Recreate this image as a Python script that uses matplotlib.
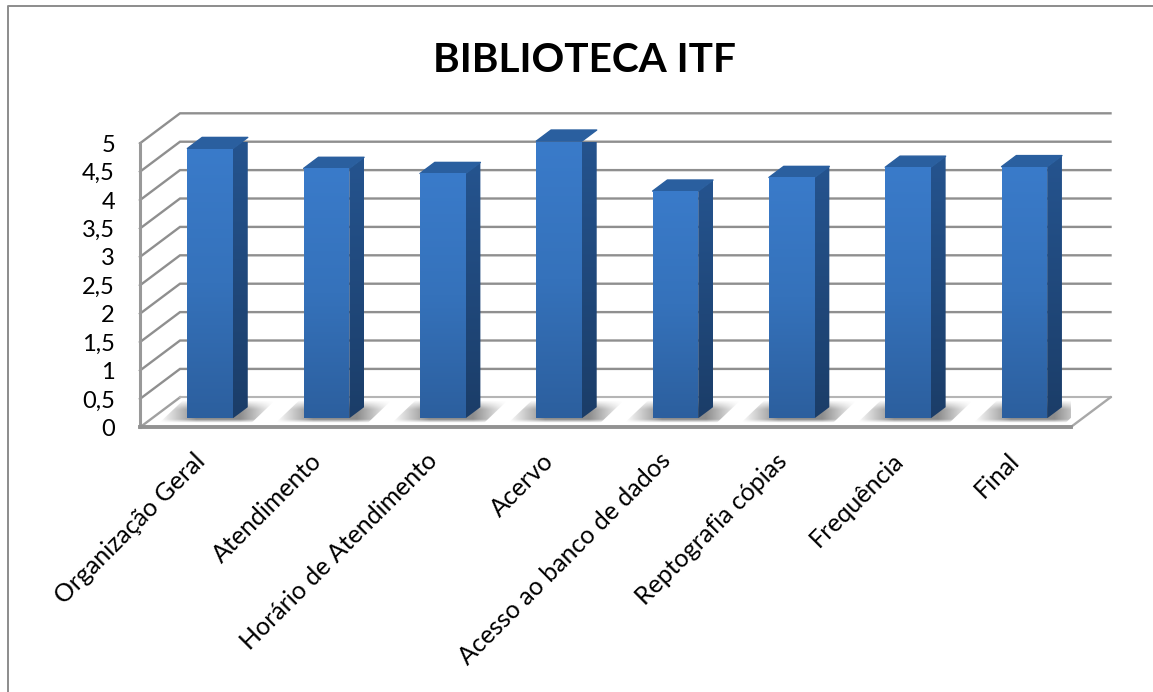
import matplotlib
matplotlib.use('Agg')
import matplotlib.pyplot as plt
from matplotlib.colors import LinearSegmentedColormap
from matplotlib.lines import Line2D
from matplotlib.patches import Polygon
from matplotlib.transforms import ScaledTranslation
import numpy as np

plt.rcParams['font.family'] = ['Lato', 'DejaVu Sans']

title = 'BIBLIOTECA ITF'
categories = ['Organização Geral', 'Atendimento', 'Horário de Atendimento', 'Acervo',
              'Acesso ao banco de dados', 'Reptografia cópias', 'Frequência', 'Final']
values = [4.75, 4.40, 4.31, 4.88, 4.00, 4.24, 4.42, 4.43]
y_ticks = [0, 0.5, 1, 1.5, 2, 2.5, 3, 3.5, 4, 4.5, 5]
y_labels = ['0', '0,5', '1', '1,5', '2', '2,5', '3', '3,5', '4', '4,5', '5']

W, H = 1153, 692
# depth of the box, in data units per unit of depth
DX, DY = 0.344, 0.528
BAR_W = 0.392
D0, D1 = 0.30, 0.67

front_cmap = LinearSegmentedColormap.from_list('front', ['#3a7bca', '#3572bb', '#2c5f9e'])
side_cmap = LinearSegmentedColormap.from_list('side', ['#25548f', '#1b3d68'])
grid_col = '#8f8f8f'


def proj(x, y, d):
    return x + d * DX, y + d * DY


def box_face(ax, pts, cmap, ext, zorder):
    poly = Polygon(pts, closed=True, fc='none', ec='none', zorder=zorder, clip_on=False)
    ax.add_patch(poly)
    grad = np.linspace(0, 1, 256).reshape(-1, 1)
    im = ax.imshow(grad, extent=ext, cmap=cmap, aspect='auto', origin='upper', zorder=zorder)
    im.set_clip_box(None)
    im.set_clip_path(poly)
    return im


fig = plt.figure(figsize=(W / 100, H / 100), dpi=100)
ax = fig.add_axes([140 / W, 1 - 427.3 / H, 930.5 / W, 284 / H])

# walls and floor
for t in y_ticks:
    x0, y0 = proj(-0.5, t, 0)
    x1, y1 = proj(-0.5, t, 1)
    x2, y2 = proj(7.5, t, 1)
    if t == 0:
        ax.plot([x0, x1], [y0, y1], color='#a0a0a0', lw=1.7, zorder=1, clip_on=False)
        ax.plot([x1, x2], [y1, y2], color='#b5b5b5', lw=1.5, zorder=1, clip_on=False)
    else:
        ax.plot([x0, x1, x2], [y0, y1, y2], color=grid_col, lw=1.7, zorder=1, clip_on=False,
                solid_joinstyle='miter')
ax.plot([-0.5, -0.5], [0, 5], color='#999999', lw=2.2, zorder=2, clip_on=False)
fx, fy = proj(7.5, 0, 1)
ax.plot([7.5, fx], [0, fy], color='#a8a8a8', lw=1.7, zorder=2, clip_on=False)
ax.plot([-0.5, 7.5], [0, 0], color='#929292', lw=2.8, zorder=6, clip_on=False)

# shadows on the floor
yy = np.linspace(0, 1, 30)
xx = np.linspace(0, 1, 120)
gx, gy = np.meshgrid(xx, yy)
shadow = np.zeros((30, 120, 4))
shadow[..., :3] = 0.5
ramp = np.clip(gx / 0.32, 0, 1) * np.clip((1 - gx) / 0.3, 0, 1)
shadow[..., 3] = ramp * np.clip(gy / 0.4, 0, 1) * np.clip((1 - gy) / 0.15, 0, 1) * 0.9
for i, v in enumerate(values):
    xa = i - BAR_W / 2 + D0 * DX
    x_l, x_r = xa - 0.24, xa + BAR_W + 0.36
    pts = [(x_l, 0.08), (x_r - 0.2, 0.08), (x_r, 0.47), (x_l + 0.2, 0.47)]
    sh = Polygon(pts, closed=True, fc='none', ec='none', zorder=3)
    ax.add_patch(sh)
    im = ax.imshow(shadow, extent=(x_l, x_r, 0.08, 0.47), aspect='auto',
                   origin='upper', zorder=3, interpolation='bilinear')
    im.set_clip_path(sh)

# bars, front face through the bar call, side and top from the values
xpos = np.arange(len(values)) + D0 * DX
bottom = D0 * DY
bars = ax.bar(xpos, values, BAR_W, bottom=bottom, color='none', zorder=5)
for i, (b, v) in enumerate(zip(bars, values)):
    xl, xr = b.get_x(), b.get_x() + b.get_width()
    yb, yt = bottom, bottom + v
    ddx, ddy = (D1 - D0) * DX, (D1 - D0) * DY
    side = [(xr, yb), (xr + ddx, yb + ddy), (xr + ddx, yt + ddy), (xr, yt)]
    box_face(ax, side, side_cmap, (xr, xr + ddx, yb, yt + ddy), 5)
    top = [(xl, yt), (xr, yt), (xr + ddx, yt + ddy), (xl + ddx, yt + ddy)]
    ax.add_patch(Polygon(top, closed=True, fc='#2a5f9f', ec='#2a5f9f', lw=1.0,
                         joinstyle='round', zorder=5, clip_on=False))
    front = [(xl, yb), (xr, yb), (xr, yt), (xl, yt)]
    box_face(ax, front, front_cmap, (xl, xr, yb, yt), 5.5)

ax.set_xlim(-0.5, 7.5)
ax.set_ylim(0, 5)
ax.patch.set_visible(False)
for s in ax.spines.values():
    s.set_visible(False)
ax.set_yticks(y_ticks)
ax.set_yticklabels(y_labels, fontsize=17, color='black')
ax.tick_params(axis='y', length=0, pad=18)
ax.set_xticks(np.arange(len(categories)))
ax.set_xticklabels(categories, rotation=45, ha='right', va='top', rotation_mode='anchor',
                   fontsize=18, color='black')
ax.tick_params(axis='x', length=0, pad=15.5)
shift = ScaledTranslation(-5 / 100, 0, fig.dpi_scale_trans)
for lab in ax.get_xticklabels():
    lab.set_transform(lab.get_transform() + shift)

fig.text(584.5 / W, 1 - 61 / H, title, fontsize=29.2, fontweight='bold', ha='center', va='center',
         color='black')

# chart frame, cropped on the right and bottom
fig.add_artist(Line2D([7.5 / W, 7.5 / W, 1], [0, 1 - 6 / H, 1 - 6 / H], color='#8c8c8c', lw=1.4))

fig.savefig('out.png', dpi=100, facecolor='white')
